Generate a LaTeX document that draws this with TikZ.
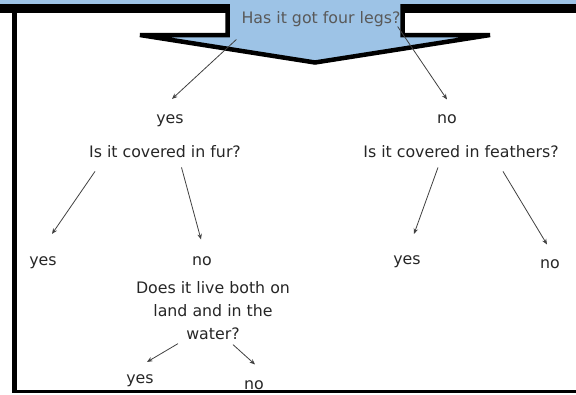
\documentclass[tikz,border=0pt]{standalone}
\usepackage{fontspec}
\setmainfont{DejaVu Sans}
\usetikzlibrary{arrows.meta, positioning, calc}

\definecolor{legblue}{RGB}{157,195,230}

\begin{document}
\begin{tikzpicture}[
    x=1pt, y=-1pt,
    q_text/.style={inner sep=0pt, anchor=base, text=black!85, font=\fontsize{15.8}{23}\selectfont},
    a_text/.style={q_text},
    tree_flow/.style={-{Stealth[length=5.5pt,width=4.5pt]}, draw=black!75, line width=0.8pt},
    big_arrow/.style={fill=legblue, draw=black, line width=4.5pt},
    frame_line/.style={fill=black}
]
    \useasboundingbox (0,0) rectangle (576,394);
    \clip (0,0) rectangle (576,394);

    % Frame
    \fill[frame_line] (0,4) rectangle (576,12.5);
    \fill[frame_line] (12,4) rectangle (17,393);
    \fill[frame_line] (12,389.5) rectangle (576,393);

    % Big arrow
    \draw[big_arrow] (227.5,-20) -- (227.5,35) -- (140,35) -- (315,62.5) -- (490,35) -- (402.5,35) -- (402.5,-20);
    \fill[legblue] (0,0) rectangle (576,4);

    % Questions and answers
    \node[q_text, text=black!65] (legs) at (321,23) {Has it got four legs?};
    \node[a_text] (legsyes) at (170,123) {yes};
    \node[a_text] (legsno) at (447,123) {no};

    \node[q_text] (fur) at (165,157) {Is it covered in fur?};
    \node[a_text] (furyes) at (43,265) {yes};
    \node[a_text] (furno) at (202,265) {no};

    \node[q_text] (feath) at (461,157) {Is it covered in feathers?};
    \node[a_text] (feathyes) at (407,264) {yes};
    \node[a_text] (feathno) at (550,268) {no};

    \node[q_text, align=center, anchor=north] (live) at (213,281) {Does it live both on\\land and in the\\water?};
    \node[a_text] (liveyes) at (140,383) {yes};
    \node[a_text] (liveno) at (254,389) {no};

    % Connections
    \draw[tree_flow] ([shift={(-5,13)}]legs.south west) -- ([shift={(2,-15)}]legsyes.north);
    \draw[tree_flow] ([shift={(-3,0)}]legs.south east) -- ([shift={(0,-14.5)}]legsno.north);

    \draw[tree_flow] ([shift={(-70,14)}]fur.south) -- ([shift={(9,-22)}]furyes.north);
    \draw[tree_flow] ([shift={(16.5,10)}]fur.south) -- ([shift={(-1,-16.5)}]furno.north);

    \draw[tree_flow] ([shift={(-23,10)}]feath.south) -- ([shift={(7,-21)}]feathyes.north);
    \draw[tree_flow] ([shift={(42,14)}]feath.south) -- ([shift={(-3,-14.5)}]feathno.north);

    \draw[tree_flow] ([shift={(-35,4)}]live.south) -- ([shift={(7,-12)}]liveyes.north);
    \draw[tree_flow] ([shift={(20,5)}]live.south) -- ([shift={(1,-15.5)}]liveno.north);

\end{tikzpicture}
\end{document}
